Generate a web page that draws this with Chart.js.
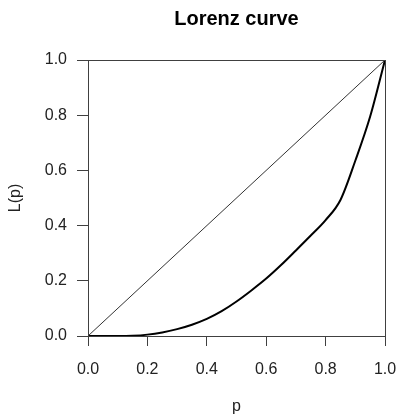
<!DOCTYPE html>
<html>
<head>
<meta charset="utf-8">
<script src="https://cdn.jsdelivr.net/npm/chart.js@4"></script>
<style>
  html, body { margin: 0; padding: 0; background: #fff; }
  #wrap { width: 398px; height: 419px; }
</style>
</head>
<body>
<div id="wrap"><canvas id="lorenz"></canvas></div>
<script>
// share of population (p) and cumulative share of income L(p)
const pValues = [0, 0.05, 0.1, 0.15, 0.2, 0.25, 0.3, 0.35, 0.4, 0.45, 0.5, 0.55, 0.6, 0.65, 0.7, 0.75, 0.8, 0.85, 0.9, 0.95, 1.0];
const lValues = [0, 0, 0, 0.001, 0.005, 0.013, 0.025, 0.041, 0.062, 0.09, 0.125, 0.165, 0.208, 0.257, 0.31, 0.364, 0.42, 0.493, 0.635, 0.795, 1.0];
const equalityP = [0, 1];
const equalityL = [0, 1];
const tickValues = [0, 0.2, 0.4, 0.6, 0.8, 1.0];

const FONT = "'Liberation Sans', Arial, Helvetica, sans-serif";
const AXIS = "#404040";

const toPoints = (xs, ys) => xs.map((x, i) => ({ x: x, y: ys[i] }));

// closes the box around the plot area, like R's box()
const frame = {
  id: "frame",
  afterDraw(chart) {
    const { ctx, chartArea: a } = chart;
    ctx.save();
    ctx.strokeStyle = AXIS;
    ctx.lineWidth = 1;
    ctx.strokeRect(Math.round(a.left) + 0.5, Math.round(a.top) + 0.5,
      Math.round(a.right - a.left), Math.round(a.bottom - a.top));
    ctx.restore();
  }
};

new Chart(document.getElementById("lorenz"), {
  type: "line",
  data: {
    datasets: [
      {
        label: "equality",
        data: toPoints(equalityP, equalityL),
        borderColor: "#333",
        borderWidth: 1,
        pointRadius: 0,
        fill: false,
      },
      {
        label: "Lorenz",
        data: toPoints(pValues, lValues),
        borderColor: "#000",
        borderWidth: 2,
        pointRadius: 0,
        cubicInterpolationMode: "monotone",
        fill: false,
      },
    ],
  },
  plugins: [frame],
  options: {
    responsive: true,
    maintainAspectRatio: false,
    animation: false,
    layout: { padding: { left: 0, right: 13, top: 0, bottom: 0 } },
    plugins: {
      legend: { display: false },
      tooltip: { enabled: false },
      title: {
        display: true,
        text: "Lorenz curve",
        fullSize: false,
        color: "#000",
        font: { family: FONT, size: 20, weight: "bold" },
        padding: { top: 7, bottom: 29 },
      },
    },
    scales: {
      x: {
        type: "linear",
        min: 0,
        max: 1,
        afterBuildTicks: (s) => { s.ticks = tickValues.map(v => ({ value: v })); },
        afterFit: (s) => { s.height = 83; s.paddingLeft = 0; s.paddingRight = 0; },
        grid: { drawOnChartArea: false, tickLength: 10, color: AXIS },
        border: { color: AXIS },
        ticks: {
          color: "#222",
          padding: 14,
          maxRotation: 0,
          font: { family: FONT, size: 16 },
          callback: (v) => Number(v).toFixed(1),
        },
        title: {
          display: true,
          text: "p",
          color: "#222",
          font: { family: FONT, size: 16 },
          padding: { top: 0, bottom: 3 },
        },
      },
      y: {
        type: "linear",
        min: 0,
        max: 1,
        afterBuildTicks: (s) => { s.ticks = tickValues.map(v => ({ value: v })); },
        afterFit: (s) => { s.width = 88; s.paddingTop = 0; s.paddingBottom = 0; },
        grid: { drawOnChartArea: false, tickLength: 11, color: AXIS },
        border: { color: AXIS },
        ticks: {
          color: "#222",
          padding: 10,
          font: { family: FONT, size: 16 },
          callback: (v) => Number(v).toFixed(1),
        },
        title: {
          display: true,
          text: "L(p)",
          color: "#222",
          font: { family: FONT, size: 16 },
          padding: { top: 6, bottom: 0 },
        },
      },
    },
  },
});
</script>
</body>
</html>
